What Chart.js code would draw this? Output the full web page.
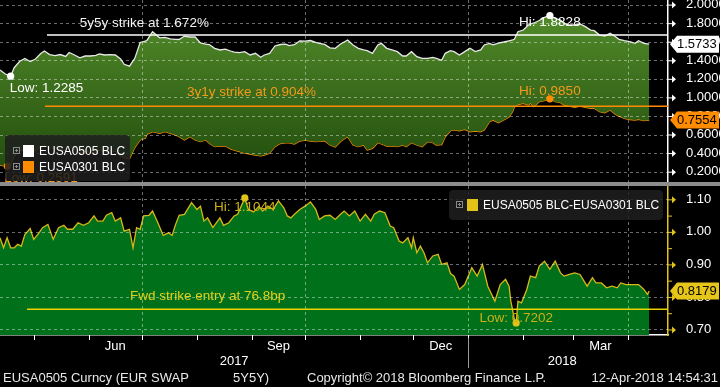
<!DOCTYPE html>
<html>
<head>
<meta charset="utf-8">
<script src="https://cdn.jsdelivr.net/npm/chart.js@4.4.1/dist/chart.umd.min.js"></script>
<style>
  html, body { margin: 0; padding: 0; background: #000; }
  body { width: 720px; height: 387px; position: relative; overflow: hidden;
         font-family: "Liberation Sans", Arial, sans-serif; color: #fff; }
  canvas { position: absolute; left: 0; }
  #topChart { top: 0; }
  #botChart { top: 186px; }
  #sep { position: absolute; left: 0; top: 182px; width: 720px; height: 4px; background: #8c8c8c; }
  .legend { position: absolute; background: rgba(30,30,30,0.86); border-radius: 4px; }
  .row { position: absolute; height: 14px; line-height: 14px; font-size: 12px; white-space: nowrap; color: #fff; }
  .plus { position: absolute; top: 3px; width: 5px; height: 5px; border: 1px solid #8a8a8a; }
  .plus::before { content: ''; position: absolute; left: 1px; top: 2px; width: 3px; height: 1px; background: #8a8a8a; }
  .plus::after { content: ''; position: absolute; left: 2px; top: 1px; width: 1px; height: 3px; background: #8a8a8a; }
  .sw { position: absolute; top: 1px; width: 11px; height: 12px; }
  .txt { position: absolute; top: 0; }
  .foot { position: absolute; top: 370px; font-size: 13px; line-height: 16px; color: #e8e8e8; white-space: nowrap; }
</style>
</head>
<body>
<canvas id="topChart" width="720" height="182"></canvas>
<div id="sep"></div>
<canvas id="botChart" width="720" height="201"></canvas>

<div class="legend" style="left:5px;top:135px;width:125px;height:46px">
  <div class="row" style="left:0;top:9px;width:125px">
    <span class="plus" style="left:8px"></span><span class="sw" style="left:18px;background:#fff"></span><span class="txt" style="left:34px">EUSA0505 BLC</span>
  </div>
  <div class="row" style="left:0;top:25px;width:125px">
    <span class="plus" style="left:8px"></span><span class="sw" style="left:18px;background:#ff8c00"></span><span class="txt" style="left:34px">EUSA0301 BLC</span>
  </div>
</div>
<div class="legend" style="left:449px;top:190px;width:214px;height:30px">
  <div class="row" style="left:0;top:8px;width:214px">
    <span class="plus" style="left:7px"></span><span class="sw" style="left:18px;background:#e2c418"></span><span class="txt" style="left:34px">EUSA0505 BLC-EUSA0301 BLC</span>
  </div>
</div>

<div class="foot" style="left:3px">EUSA0505 Curncy (EUR SWAP</div>
<div class="foot" style="left:233px">5Y5Y)</div>
<div class="foot" style="left:307px">Copyright© 2018 Bloomberg Finance L.P.</div>
<div class="foot" style="right:2px">12-Apr-2018 14:54:31</div>

<script>
const FONT = '"Liberation Sans", Arial, sans-serif';
Chart.defaults.font.family = FONT;

// x values are days since 12-Apr-2017
const X_MAX = 376.6;
const monthStarts = [19, 50, 80, 111, 142, 172, 203, 233, 264, 295, 323, 354];
const quarterStarts = [80, 172, 264, 354];
const monthLabels = ['Jun', 'Sep', 'Dec', 'Mar'];
const monthLabelDays = [65, 157, 248.5, 338.5];
const yearLabels = ['2017', '2018'];
const yearLabelDays = [132, 317];
const yearBreak = 264;

const topTicks = [0.2, 0.4, 0.6, 0.8, 1.0, 1.2, 1.4, 1.6, 1.8, 2.0];
const spreadTicks = [0.70, 0.75, 0.80, 0.85, 0.90, 0.95, 1.00, 1.05, 1.10];

// EUSA0505 / EUSA0301 (top panel)
const topDays = [
  0, 3, 6, 8, 11, 14, 17, 20, 23, 25,
  28, 31, 34, 37, 39, 42, 45, 48, 51, 54,
  56, 59, 62, 65, 68, 70, 73, 76, 79, 82,
  83, 86, 90, 93, 96, 99, 101, 104, 107, 110,
  113, 116, 118, 121, 124, 127, 130, 132, 135, 138,
  141, 144, 147, 149, 152, 155, 158, 161, 163, 166,
  169, 172, 175, 178, 180, 183, 186, 189, 192, 194,
  196, 199, 202, 205, 207, 210, 213, 215, 218, 221,
  224, 227, 229, 232, 235, 238, 241, 244, 246, 249,
  251, 254, 256, 259, 262, 265, 268, 271, 273, 276,
  278, 281, 284, 287, 289, 290, 292, 295, 298, 299,
  301, 304, 307, 310, 313, 316, 318, 321, 324, 327,
  330, 333, 335, 338, 341, 344, 347, 349, 352, 355,
  358, 360, 363, 366
];
const eusa0505 = [
  1.295, 1.252, 1.2285, 1.320, 1.387, 1.419, 1.387, 1.414, 1.473, 1.500,
  1.462, 1.451, 1.462, 1.441, 1.484, 1.457, 1.427, 1.446, 1.446, 1.454,
  1.468, 1.457, 1.462, 1.457, 1.414, 1.357, 1.336, 1.421, 1.592, 1.606,
  1.619, 1.708, 1.642, 1.646, 1.630, 1.625, 1.624, 1.661, 1.651, 1.651,
  1.588, 1.575, 1.570, 1.529, 1.511, 1.521, 1.500, 1.489, 1.482, 1.493,
  1.457, 1.475, 1.432, 1.457, 1.475, 1.554, 1.570, 1.575, 1.559, 1.568,
  1.608, 1.607, 1.613, 1.594, 1.583, 1.571, 1.534, 1.529, 1.575, 1.597,
  1.619, 1.565, 1.529, 1.511, 1.503, 1.475, 1.565, 1.583, 1.529, 1.511,
  1.493, 1.446, 1.446, 1.493, 1.439, 1.421, 1.421, 1.432, 1.421, 1.400,
  1.475, 1.503, 1.493, 1.457, 1.493, 1.529, 1.493, 1.511, 1.565, 1.581,
  1.567, 1.586, 1.597, 1.610, 1.619, 1.626, 1.708, 1.726, 1.780, 1.791,
  1.802, 1.829, 1.863, 1.8828, 1.852, 1.834, 1.798, 1.780, 1.780, 1.791,
  1.762, 1.726, 1.719, 1.672, 1.662, 1.691, 1.654, 1.626, 1.611, 1.600,
  1.583, 1.611, 1.583, 1.5733
];
const eusa0301 = [
  0.272, 0.2591, 0.279, 0.369, 0.428, 0.427, 0.377, 0.430, 0.471, 0.484,
  0.453, 0.461, 0.447, 0.425, 0.476, 0.442, 0.401, 0.424, 0.411, 0.410,
  0.435, 0.415, 0.407, 0.424, 0.371, 0.355, 0.340, 0.460, 0.541, 0.559,
  0.605, 0.630, 0.613, 0.630, 0.613, 0.595, 0.576, 0.541, 0.576, 0.541,
  0.523, 0.541, 0.505, 0.469, 0.476, 0.476, 0.446, 0.431, 0.417, 0.399,
  0.390, 0.379, 0.369, 0.379, 0.398, 0.469, 0.503, 0.509, 0.509, 0.498,
  0.530, 0.539, 0.530, 0.523, 0.528, 0.532, 0.487, 0.465, 0.525, 0.551,
  0.576, 0.487, 0.469, 0.487, 0.433, 0.451, 0.512, 0.498, 0.476, 0.476,
  0.469, 0.487, 0.469, 0.512, 0.487, 0.469, 0.523, 0.512, 0.487, 0.492,
  0.576, 0.641, 0.649, 0.641, 0.656, 0.630, 0.638, 0.630, 0.649, 0.738,
  0.756, 0.727, 0.756, 0.789, 0.846, 0.896, 0.923, 0.936, 0.918, 0.940,
  0.900, 0.954, 0.965, 0.985, 0.954, 0.943, 0.918, 0.907, 0.893, 0.907,
  0.893, 0.883, 0.883, 0.846, 0.835, 0.864, 0.816, 0.799, 0.773, 0.762,
  0.756, 0.764, 0.749, 0.7554
];

// EUSA0505 - EUSA0301 (bottom panel)
const spreadDays = [
  0, 2, 4, 6, 8, 10, 12, 14, 17, 19,
  22, 24, 27, 30, 33, 36, 38, 41, 44, 47,
  50, 53, 55, 58, 60, 63, 65, 68, 70, 73,
  75, 77, 79, 81, 84, 86, 89, 92, 95, 97,
  99, 101, 104, 108, 111, 113, 115, 117, 120, 124,
  126, 129, 132, 134, 138, 140, 143, 146, 148, 151,
  154, 157, 160, 162, 164, 166, 169, 172, 175, 178,
  180, 183, 186, 189, 192, 194, 197, 200, 203, 206,
  209, 211, 214, 217, 220, 222, 225, 227, 230, 232,
  233, 235, 237, 239, 241, 244, 247, 249, 252, 254,
  256, 259, 262, 266, 269, 272, 275, 279, 282, 285,
  287, 288, 290, 291, 292, 294, 297, 299, 302, 304,
  307, 310, 313, 316, 318, 321, 324, 327, 331, 334,
  336, 339, 342, 345, 348, 350, 353, 357, 360, 363,
  365, 366
];
const spread = [
  0.982, 0.951, 0.982, 0.951, 0.951, 0.962, 0.956, 0.992, 1.010, 0.977,
  0.997, 1.013, 1.023, 0.977, 1.013, 1.020, 1.008, 1.008, 1.028, 1.020,
  1.028, 1.049, 1.033, 1.033, 1.051, 1.059, 1.033, 1.043, 1.002, 1.008,
  0.951, 1.013, 1.008, 1.049, 1.051, 1.064, 1.028, 0.989, 0.997, 0.989,
  1.023, 1.051, 1.054, 1.090, 1.069, 1.079, 1.033, 1.043, 1.013, 1.043,
  1.020, 1.028, 1.049, 1.054, 1.1044, 1.069, 1.061, 1.079, 1.064, 1.079,
  1.069, 1.095, 1.074, 1.049, 1.043, 1.054, 1.069, 1.079, 1.092, 1.069,
  1.038, 1.049, 1.051, 1.038, 1.054, 1.064, 1.049, 1.064, 1.033, 1.054,
  1.033, 1.054, 1.064, 1.059, 1.018, 1.013, 0.972, 0.966, 0.982, 0.951,
  0.982, 0.936, 0.956, 0.936, 0.905, 0.926, 0.931, 0.900, 0.905, 0.872,
  0.864, 0.823, 0.838, 0.890, 0.864, 0.900, 0.833, 0.787, 0.838, 0.854,
  0.833, 0.787, 0.731, 0.7202, 0.787, 0.782, 0.823, 0.864, 0.859, 0.895,
  0.910, 0.885, 0.910, 0.874, 0.864, 0.869, 0.874, 0.869, 0.833, 0.859,
  0.843, 0.843, 0.828, 0.833, 0.828, 0.843, 0.838, 0.838, 0.838, 0.823,
  0.808, 0.8179
];

const strike5y5y = 1.672;
const strike3y1y = 0.904;
const fwdStrike = 0.762;
const topHiDay = 310, topLowDay = 6, orangeHiDay = 310, orangeLowDay = 3;
const spreadHiDay = 138, spreadLowDay = 291;

const pts = (xs, ys) => xs.map((d, i) => ({ x: d, y: ys[i] }));
const isMajor = v => Math.round(v * 100) % 10 === 0;
const GRID = 'rgba(255,255,255,0.42)';

function dashedGrid(ctx, a, xs, ys, xScale, yScale) {
  ctx.save();
  ctx.strokeStyle = GRID;
  ctx.lineWidth = 1;
  ctx.setLineDash([3, 3]);
  ys.forEach(v => {
    const py = Math.round(yScale.getPixelForValue(v)) + 0.5;
    ctx.beginPath(); ctx.moveTo(a.left, py); ctx.lineTo(a.right, py); ctx.stroke();
  });
  xs.forEach(v => {
    const px = Math.round(xScale.getPixelForValue(v)) + 0.5;
    ctx.beginPath(); ctx.moveTo(px, a.top); ctx.lineTo(px, a.bottom); ctx.stroke();
  });
  ctx.restore();
}

function arrowTick(ctx, x, y, color) {
  ctx.strokeStyle = color; ctx.fillStyle = color; ctx.lineWidth = 1;
  ctx.beginPath(); ctx.moveTo(x, y + 0.5); ctx.lineTo(x + 5, y + 0.5); ctx.stroke();
  ctx.beginPath(); ctx.moveTo(x + 4, y - 3); ctx.lineTo(x + 8, y + 0.5); ctx.lineTo(x + 4, y + 4); ctx.closePath(); ctx.fill();
}

function valueBox(ctx, x, y, text, bg) {
  ctx.fillStyle = bg;
  ctx.beginPath();
  ctx.moveTo(x + 2, y);
  ctx.lineTo(x + 9, y - 8.5);
  ctx.lineTo(719, y - 8.5);
  ctx.lineTo(719, y + 8.5);
  ctx.lineTo(x + 9, y + 8.5);
  ctx.closePath();
  ctx.fill();
  ctx.fillStyle = '#000';
  ctx.font = '13px ' + FONT;
  ctx.textAlign = 'left';
  ctx.textBaseline = 'middle';
  ctx.fillText(text, x + 9, y + 0.5);
}

function label(ctx, text, x, y, color, align) {
  ctx.fillStyle = color;
  ctx.font = '13.5px ' + FONT;
  ctx.textAlign = align || 'left';
  ctx.textBaseline = 'middle';
  ctx.fillText(text, x, y);
}

function dot(ctx, x, y, color) {
  ctx.fillStyle = color;
  ctx.beginPath(); ctx.arc(x, y, 3.6, 0, Math.PI * 2); ctx.fill();
}

function hline(ctx, y, x1, x2, color) {
  ctx.strokeStyle = color; ctx.lineWidth = 1.5;
  ctx.beginPath(); ctx.moveTo(x1, y); ctx.lineTo(x2, y); ctx.stroke();
}

const topMarks = {
  id: 'topMarks',
  afterDatasetsDraw(chart) {
    dashedGrid(chart.ctx, chart.chartArea, quarterStarts, topTicks, chart.scales.x, chart.scales.y);
  },
  afterDraw(chart) {
    const { ctx, chartArea: a } = chart;
    const x = chart.scales.x, y = chart.scales.y;
    ctx.save();
    topTicks.forEach(v => arrowTick(ctx, a.right, y.getPixelForValue(v), '#fff'));

    hline(ctx, y.getPixelForValue(strike5y5y), x.getPixelForValue(26.5), a.right, '#fff');
    hline(ctx, y.getPixelForValue(strike3y1y), x.getPixelForValue(25.4), a.right, '#ff8c00');
    label(ctx, '5y5y strike at 1.672%', x.getPixelForValue(45), y.getPixelForValue(strike5y5y) - 12, '#f2f2f2');
    label(ctx, '3y1y strike at 0.904%', x.getPixelForValue(105.4), y.getPixelForValue(strike3y1y) - 14, '#f39a1c');

    const wl = [x.getPixelForValue(topLowDay), y.getPixelForValue(eusa0505[topDays.indexOf(topLowDay)])];
    const wh = [x.getPixelForValue(topHiDay), y.getPixelForValue(eusa0505[topDays.indexOf(topHiDay)])];
    const oh = [x.getPixelForValue(orangeHiDay), y.getPixelForValue(eusa0301[topDays.indexOf(orangeHiDay)])];
    const ol = [x.getPixelForValue(orangeLowDay), y.getPixelForValue(eusa0301[topDays.indexOf(orangeLowDay)])];
    dot(ctx, wl[0], wl[1], '#fff');
    label(ctx, 'Low: 1.2285', wl[0] - 1, wl[1] + 12, '#fff');
    dot(ctx, wh[0], wh[1], '#fff');
    label(ctx, 'Hi: 1.8828', wh[0], wh[1] + 7, '#fff', 'center');
    dot(ctx, oh[0], oh[1], '#ff8c00');
    label(ctx, 'Hi: 0.9850', oh[0], oh[1] - 8, '#f39a1c', 'center');
    dot(ctx, ol[0] + 2, ol[1], '#ff8c00');
    label(ctx, 'Low: 0.2591', ol[0] - 1, ol[1] + 12, '#f39a1c');

    valueBox(ctx, a.right, y.getPixelForValue(1.5733), '1.5733', '#ffffff');
    valueBox(ctx, a.right, y.getPixelForValue(0.7554), '0.7554', '#ff8c00');
    ctx.restore();
  }
};

const botMarks = {
  id: 'botMarks',
  afterDatasetsDraw(chart) {
    dashedGrid(chart.ctx, chart.chartArea, quarterStarts, spreadTicks.filter(isMajor), chart.scales.x, chart.scales.y);
  },
  afterDraw(chart) {
    const { ctx, chartArea: a } = chart;
    const x = chart.scales.x, y = chart.scales.y;
    ctx.save();
    spreadTicks.forEach(v => {
      const py = y.getPixelForValue(v);
      if (isMajor(v)) arrowTick(ctx, a.right, py, '#e2c418');
      else { ctx.strokeStyle = '#e2c418'; ctx.lineWidth = 1; ctx.beginPath(); ctx.moveTo(a.right, py + 0.5); ctx.lineTo(a.right + 4, py + 0.5); ctx.stroke(); }
    });

    // month tick marks below the axis line
    ctx.strokeStyle = '#fff'; ctx.lineWidth = 1;
    monthStarts.forEach(v => {
      const px = Math.round(x.getPixelForValue(v)) + 0.5;
      ctx.beginPath(); ctx.moveTo(px, a.bottom); ctx.lineTo(px, a.bottom + 5); ctx.stroke();
    });

    hline(ctx, y.getPixelForValue(fwdStrike), x.getPixelForValue(15.2), a.right, '#e8d200');
    label(ctx, 'Fwd strike entry at 76.8bp', x.getPixelForValue(73.3), y.getPixelForValue(fwdStrike) - 13, '#e3d01c');

    const hi = [x.getPixelForValue(spreadHiDay), y.getPixelForValue(spread[spreadDays.indexOf(spreadHiDay)])];
    const lo = [x.getPixelForValue(spreadLowDay), y.getPixelForValue(spread[spreadDays.indexOf(spreadLowDay)])];
    dot(ctx, hi[0], hi[1], '#e2c418');
    label(ctx, 'Hi: 1.1044', hi[0], hi[1] + 9, '#cdb015', 'center');
    dot(ctx, lo[0], lo[1], '#e2c418');
    label(ctx, 'Low: 0.7202', lo[0], lo[1] - 5, '#cdb015', 'center');

    valueBox(ctx, a.right, y.getPixelForValue(0.8179), '0.8179', '#e6c619');

    // month / year labels under the axis
    ctx.fillStyle = '#fff';
    ctx.font = '13px ' + FONT;
    ctx.textAlign = 'center';
    ctx.textBaseline = 'middle';
    monthLabels.forEach((t, i) => ctx.fillText(t, x.getPixelForValue(monthLabelDays[i]), a.bottom + 11));
    yearLabels.forEach((t, i) => ctx.fillText(t, x.getPixelForValue(yearLabelDays[i]), a.bottom + 26));
    const bx = Math.round(x.getPixelForValue(yearBreak)) + 0.5;
    ctx.strokeStyle = '#9a9a9a'; ctx.lineWidth = 1;
    ctx.beginPath(); ctx.moveTo(bx, a.bottom + 3); ctx.lineTo(bx, a.bottom + 33); ctx.stroke();
    ctx.restore();
  }
};

new Chart(document.getElementById('topChart'), {
  type: 'line',
  data: {
    datasets: [{
      label: 'EUSA0505 BLC',
      data: pts(topDays, eusa0505),
      borderColor: '#e8e8e8',
      borderWidth: 1.3,
      pointRadius: 0,
      fill: '+1',
      backgroundColor: c => {
        const a = c.chart.chartArea;
        if (!a) return '#3a6b1c';
        const g = c.chart.ctx.createLinearGradient(0, a.top, 0, a.bottom);
        g.addColorStop(0, '#56902c');
        g.addColorStop(1, '#1e480b');
        return g;
      }
    }, {
      label: 'EUSA0301 BLC',
      data: pts(topDays, eusa0301),
      borderColor: '#ff8c00',
      borderWidth: 1.3,
      pointRadius: 0,
      fill: false
    }]
  },
  options: {
    responsive: false,
    maintainAspectRatio: false,
    animation: false,
    layout: { padding: 0 },
    plugins: { legend: { display: false }, tooltip: { enabled: false } },
    scales: {
      x: {
        type: 'linear', min: 0, max: X_MAX,
        ticks: { display: false },
        grid: { display: false },
        border: { display: false },
        afterFit: s => { s.height = 0; s.paddingLeft = 0; s.paddingRight = 0; }
      },
      y: {
        position: 'right', min: 0.0884, max: 2.0496,
        afterBuildTicks: s => { s.ticks = topTicks.map(v => ({ value: v })); },
        ticks: { color: '#fff', padding: 10, autoSkip: false, font: { size: 13 }, callback: v => v.toFixed(4) },
        grid: { display: false },
        border: { display: true, color: '#fff', width: 1.5 },
        afterFit: s => { s.width = 52; s.paddingTop = 0; s.paddingBottom = 0; }
      }
    }
  },
  plugins: [topMarks]
});

new Chart(document.getElementById('botChart'), {
  type: 'line',
  data: {
    datasets: [{
      label: 'EUSA0505 BLC-EUSA0301 BLC',
      data: pts(spreadDays, spread),
      borderColor: '#d8b818',
      borderWidth: 1.3,
      pointRadius: 0,
      fill: 'start',
      backgroundColor: '#00701a'
    }]
  },
  options: {
    responsive: false,
    maintainAspectRatio: false,
    animation: false,
    layout: { padding: 0 },
    plugins: { legend: { display: false }, tooltip: { enabled: false } },
    scales: {
      x: {
        type: 'linear', min: 0, max: X_MAX,
        ticks: { display: false },
        grid: { display: false },
        border: { display: true, color: '#fff', width: 1.5 },
        afterFit: s => { s.height = 52; s.paddingLeft = 0; s.paddingRight = 0; }
      },
      y: {
        position: 'right', min: 0.683, max: 1.141,
        afterBuildTicks: s => { s.ticks = spreadTicks.map(v => ({ value: v })); },
        ticks: { color: '#fff', padding: 10, autoSkip: false, font: { size: 13 }, callback: v => isMajor(v) ? v.toFixed(2) : '' },
        grid: { display: false },
        border: { display: true, color: '#e2c418', width: 1.5 },
        afterFit: s => { s.width = 52; s.paddingTop = 0; s.paddingBottom = 0; }
      }
    }
  },
  plugins: [botMarks]
});
</script>
</body>
</html>
